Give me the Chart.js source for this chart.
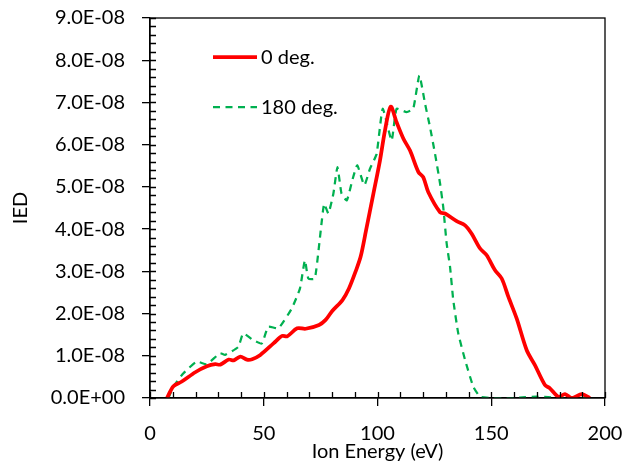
<!DOCTYPE html>
<html>
<head>
<meta charset="utf-8">
<script src="https://cdn.jsdelivr.net/npm/chart.js@4"></script>
<style>
  body { margin: 0; background: #fff; }
  #wrap { width: 626px; height: 471px; }
</style>
</head>
<body>
<div id="wrap"><canvas id="iedChart" width="626" height="471"></canvas></div>
<script>
// Ion energy (eV) and IED values, IED in units of 1E-08
const energy0 = [7.5, 10.3, 14, 19.9, 25, 28.7, 30.9, 34.6, 36.8, 39.7, 42.6, 44.9, 48.5, 54.4, 58.1, 60.3, 64.7, 68.4, 74.3, 77.2, 80.1, 84.6, 87.5, 90.4, 92.6, 94.9, 98.2, 101.1, 103.3, 105.8, 108.4, 111.4, 114.3, 118, 120.1, 122.3, 127.5, 129.7, 134.8, 138.5, 141.4, 145.1, 148, 151.6, 154.6, 157.5, 161.2, 165.6, 169.2, 173.6, 175.8, 179.5, 182.4, 185.4, 189.8, 193.4];
const ied0 = [0, 0.28, 0.39, 0.61, 0.75, 0.80, 0.79, 0.91, 0.89, 0.98, 0.91, 0.92, 1.02, 1.30, 1.47, 1.46, 1.65, 1.64, 1.73, 1.85, 2.06, 2.32, 2.60, 3.0, 3.35, 3.95, 4.84, 5.63, 6.34, 6.90, 6.53, 6.14, 5.86, 5.35, 5.23, 4.88, 4.40, 4.37, 4.19, 4.09, 3.89, 3.54, 3.38, 3.03, 2.83, 2.40, 1.88, 1.13, 0.78, 0.31, 0.23, 0.03, 0.09, 0, 0.09, 0];

const energy180 = [8.1, 10.3, 14.6, 20.5, 24.9, 30.8, 33, 38.8, 41, 45.4, 49.1, 52, 56.4, 62.3, 65.9, 68.1, 69.6, 72.5, 76.5, 78.4, 80.6, 82.4, 84.2, 86.5, 89.1, 91.1, 94.2, 96.7, 99.6, 102.3, 106.2, 108.4, 112.8, 115.7, 118.4, 120.9, 123.1, 125.3, 127.5, 128.9, 130.4, 131.9, 133.3, 135.5, 138.5, 142.1, 145.1, 150, 155, 160, 165, 170, 175, 180, 185, 190, 193];
const ied180 = [0, 0.27, 0.58, 0.86, 0.80, 1.06, 1.02, 1.21, 1.53, 1.37, 1.29, 1.69, 1.65, 2.12, 2.59, 3.26, 2.83, 2.83, 4.60, 4.37, 4.84, 5.47, 4.84, 4.68, 5.19, 5.51, 5.04, 5.43, 5.78, 6.85, 6.10, 6.85, 6.77, 6.85, 7.64, 6.97, 6.41, 5.78, 5.08, 4.52, 3.66, 3.10, 2.32, 1.53, 0.90, 0.27, 0.03, 0, 0, 0, 0.02, 0.03, 0.02, 0, 0.02, 0.01, 0];

const seriesNames = ['0 deg.', '180 deg.'];

const FONT = 'Lato, "Open Sans", sans-serif';

function toPoints(xs, ys) {
    return xs.map((x, i) => ({ x: x, y: ys[i] * 1e-8 }));
}

function sci(v) {
    if (Math.abs(v) < 1e-15) return '0.0E+00';
    const parts = v.toExponential(1).split('e');
    const n = parseInt(parts[1], 10);
    return parts[0] + 'E' + (n < 0 ? '-' : '+') + String(Math.abs(n)).padStart(2, '0');
}

// frame, inner ticks and the legend box
const framePlugin = {
    id: 'frame',
    afterDraw(chart) {
        const ctx = chart.ctx;
        const a = chart.chartArea;
        const xs = chart.scales.x;
        const ys = chart.scales.y;
        ctx.save();
        ctx.strokeStyle = '#000';
        ctx.lineWidth = 1.3;
        ctx.strokeRect(a.left, a.top, a.right - a.left, a.bottom - a.top);

        ctx.beginPath();
        for (let v = 0; v <= 200.001; v += 10) {
            const px = Math.round(xs.getPixelForValue(v)) + 0.5;
            ctx.moveTo(px, a.bottom);
            ctx.lineTo(px, a.bottom - 6);
        }
        for (let k = 0; k <= 45; k++) {
            const py = Math.round(ys.getPixelForValue(k * 0.2e-8)) + 0.5;
            ctx.moveTo(a.left, py);
            ctx.lineTo(a.left + 6, py);
        }
        ctx.stroke();

        // legend
        const ds = chart.data.datasets;
        const rows = [57, 107];
        ctx.font = '20px ' + FONT;
        ctx.textBaseline = 'middle';
        ctx.fillStyle = '#000';
        rows.forEach((y, i) => {
            ctx.beginPath();
            ctx.strokeStyle = ds[i].borderColor;
            ctx.lineWidth = ds[i].borderWidth;
            ctx.setLineDash(ds[i].borderDash || []);
            ctx.moveTo(213, y);
            ctx.lineTo(257, y);
            ctx.stroke();
            ctx.setLineDash([]);
            ctx.fillText(ds[i].label, 261, y + 1);
        });
        ctx.restore();
    }
};

const ctx = document.getElementById('iedChart').getContext('2d');
new Chart(ctx, {
    type: 'line',
    data: {
        datasets: [{
            label: seriesNames[0],
            data: toPoints(energy0, ied0),
            borderColor: '#FF0000',
            borderWidth: 3.75,
            pointRadius: 0,
            tension: 0.3,
            fill: false
        }, {
            label: seriesNames[1],
            data: toPoints(energy180, ied180),
            borderColor: '#00B050',
            borderWidth: 2.25,
            borderDash: [7, 5.5],
            pointRadius: 0,
            tension: 0.15,
            fill: false
        }]
    },
    options: {
        responsive: false,
        animation: false,
        layout: { padding: { top: 18, right: 21, left: 0, bottom: 0 } },
        plugins: {
            legend: { display: false },
            tooltip: { enabled: false }
        },
        scales: {
            x: {
                type: 'linear',
                min: 0,
                max: 200,
                afterFit(s) { s.height = 73; s.paddingLeft = 0; s.paddingRight = 0; },
                ticks: {
                    stepSize: 50,
                    color: '#000',
                    padding: 16,
                    maxRotation: 0,
                    font: { family: FONT, size: 20 }
                },
                grid: { drawOnChartArea: false, drawTicks: true, tickLength: 8, color: '#000', lineWidth: 1.3 },
                border: { color: '#000', width: 1.3 },
                title: {
                    display: true,
                    text: 'Ion Energy (eV)',
                    color: '#000',
                    font: { family: FONT, size: 20 },
                    padding: { top: 0, bottom: 7 }
                }
            },
            y: {
                min: 0,
                max: 9e-8,
                afterFit(s) { s.width = 150; s.paddingTop = 0; s.paddingBottom = 0; },
                ticks: {
                    stepSize: 1e-8,
                    color: '#000',
                    padding: 17,
                    font: { family: FONT, size: 20 },
                    callback: (v) => sci(v)
                },
                grid: { drawOnChartArea: false, drawTicks: true, tickLength: 8, color: '#000', lineWidth: 1.3 },
                border: { color: '#000', width: 1.3 },
                title: {
                    display: true,
                    text: 'IED',
                    color: '#000',
                    font: { family: FONT, size: 20 },
                    padding: { top: 9, bottom: 0 }
                }
            }
        }
    },
    plugins: [framePlugin]
});
</script>
</body>
</html>
